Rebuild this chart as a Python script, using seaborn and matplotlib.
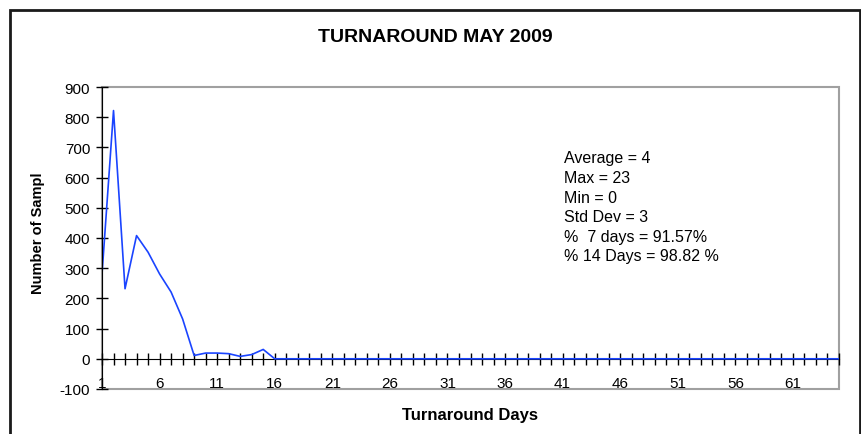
import numpy as np
import pandas as pd
import seaborn as sns
import matplotlib.pyplot as plt
from matplotlib.patches import Rectangle

# turnaround days and number of samples
days = list(range(1, 66))
samples = [280, 822, 232, 408, 353, 281, 221, 132, 11, 19,
           19, 17, 8, 14, 31, 0] + [0] * 49
y_ticks = list(range(-100, 1000, 100))
x_labels = list(range(1, 66, 5))
stats_lines = ["Average = 4", "Max = 23", "Min = 0", "Std Dev = 3",
               "%  7 days = 91.57%", "% 14 Days = 98.82 %"]

df = pd.DataFrame({"day": days, "samples": samples})

sns.set_style("white")
plt.rcParams["font.family"] = ["Liberation Sans", "DejaVu Sans"]
plt.rcParams["text.color"] = "black"
plt.rcParams["axes.labelcolor"] = "black"

fig = plt.figure(figsize=(8.61, 4.35), dpi=100)
ax = fig.add_axes([102 / 861, 45 / 435, 737 / 861, 302 / 435])

sns.lineplot(data=df, x="day", y="samples", color="#1a44ff", linewidth=1.2, ax=ax)

ax.set_xlim(1, 65)
ax.set_ylim(-100, 900)

# plot area border in grey
ax.patch.set_edgecolor("#a0a0a0")
ax.patch.set_linewidth(1.5)
for side in ["top", "right"]:
    ax.spines[side].set_visible(False)
ax.spines["bottom"].set_position(("data", 0))
ax.spines["bottom"].set_color("black")
ax.spines["left"].set_color("black")
ax.spines["bottom"].set_zorder(1)

ax.set_yticks(y_ticks)
ax.set_yticklabels([str(v) for v in y_ticks])
ax.set_xticks(days)
ax.set_xticklabels([str(d) if d in x_labels else "" for d in days])
ax.tick_params(axis="both", direction="inout", length=9, width=1, colors="black",
               labelsize=11, bottom=True, left=True)
ax.tick_params(axis="x", pad=8)
ax.tick_params(axis="y", pad=4)
ax.set_xlabel("Turnaround Days", fontsize=12, fontweight="bold")
ax.set_ylabel("Number of Sampl", fontsize=10.5, fontweight="bold")
ax.xaxis.set_label_coords(0.5, -0.06)
ax.yaxis.set_label_coords(-0.078, 0.52)

ax.text(0.627, 0.79, "\n".join(stats_lines), transform=ax.transAxes,
        fontsize=11.5, va="top", ha="left", linespacing=1.38)

fig.text(435 / 861, (435 - 38) / 435, "TURNAROUND MAY 2009", fontsize=14,
         fontweight="bold", ha="center", va="center")

# outer chart border
fig.patches.append(Rectangle((10 / 861, -0.05), 850 / 861, (435 - 11) / 435 + 0.05,
                             transform=fig.transFigure, fill=False,
                             edgecolor="#1a1a1a", linewidth=2))

fig.savefig("out.png", dpi=100)
